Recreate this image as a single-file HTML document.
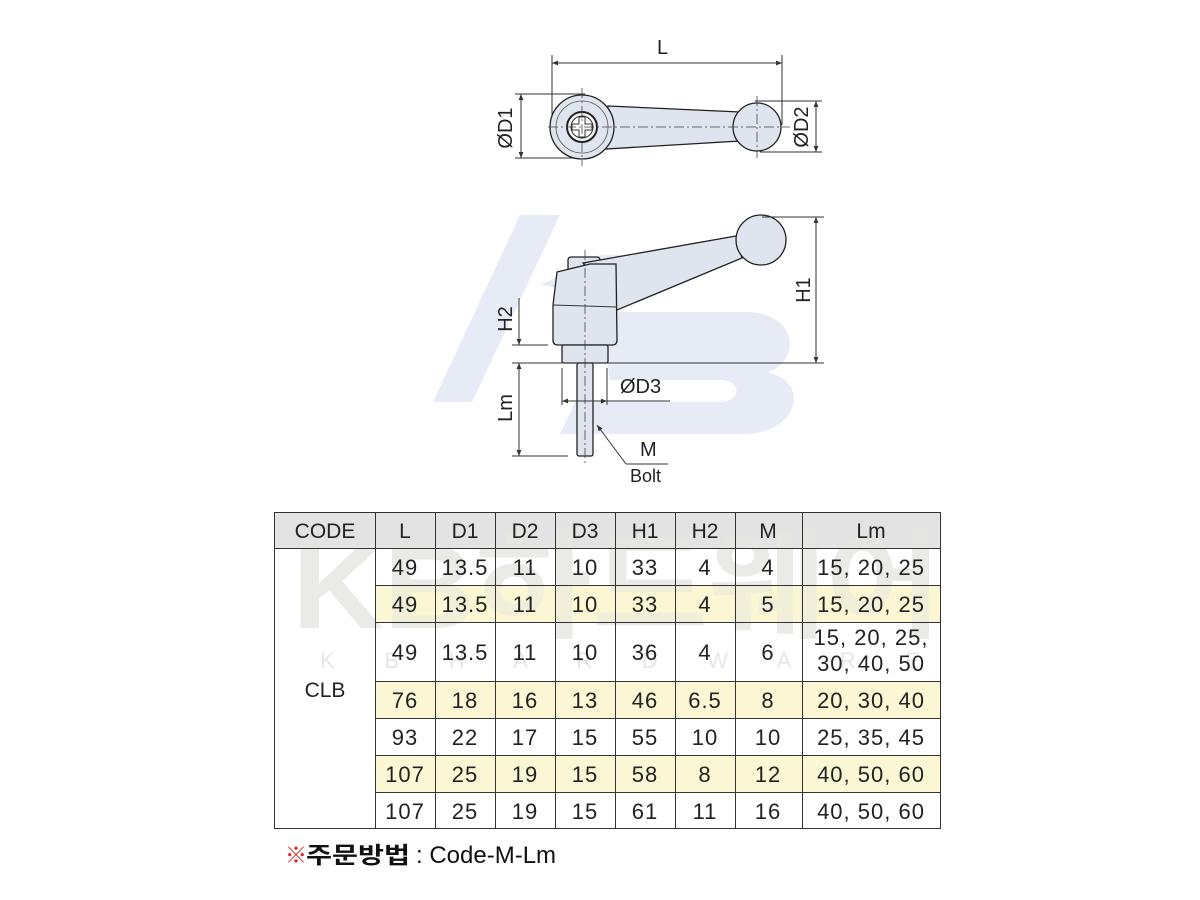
<!DOCTYPE html>
<html><head><meta charset="utf-8"><style>
html,body{margin:0;padding:0;background:#fff;}
svg{display:block;font-family:"Liberation Sans","Noto Sans CJK KR",sans-serif;}
</style></head><body>
<svg width="1200" height="900" viewBox="0 0 1200 900" xmlns="http://www.w3.org/2000/svg">
<defs>
<marker id="a" viewBox="0 0 10 10" refX="10" refY="5" markerWidth="8" markerHeight="6" orient="auto-start-reverse"><path d="M0,1 L10,5 L0,9 z" fill="#333"/></marker>
</defs>
<!-- KB watermark -->
<g fill="#e6ebf5">
<polygon points="433,402 472,402 560,215 520,215"/>
<polygon points="540,285 600,255 690,255 640,300"/>
<path d="M600,312 L745,312 C800,312 800,362 768,372 C810,382 800,432 745,434 L560,434 L575,402 L720,402 C742,402 742,380 720,380 L610,380 Z"/>
</g>
<!-- table watermark -->
<text x="292" y="628" font-size="118" fill="#ececec" font-weight="bold" textLength="650" lengthAdjust="spacingAndGlyphs">KB하드웨어</text>
<text x="320" y="668" font-size="22" fill="#e6e6e6" textLength="600" lengthAdjust="spacing">K B H A R D W A R E</text>

<g stroke="#333" stroke-width="1" fill="none">
<line x1="552" y1="55" x2="552" y2="115"/>
<line x1="782" y1="55" x2="782" y2="125"/>
<line x1="552" y1="63" x2="782" y2="63" marker-start="url(#a)" marker-end="url(#a)"/>
<line x1="515" y1="94" x2="585" y2="94"/>
<line x1="515" y1="158" x2="585" y2="158"/>
<line x1="521" y1="94" x2="521" y2="158" marker-start="url(#a)" marker-end="url(#a)"/>
<line x1="755" y1="101" x2="822" y2="101"/>
<line x1="760" y1="152" x2="822" y2="152"/>
<line x1="816" y1="101" x2="816" y2="152" marker-start="url(#a)" marker-end="url(#a)"/>
</g>
<g stroke="#222" stroke-width="1.3" fill="#dfe5ef">
<path d="M608,106 L740,112 L740,141 L606,149 Z"/>
<circle cx="582" cy="127" r="32"/>
<circle cx="757" cy="127" r="24"/>
</g>
<circle cx="582" cy="127" r="26" fill="none" stroke="#555" stroke-width="0.8"/>
<circle cx="582" cy="127" r="15" fill="#f5f5f5" stroke="#222" stroke-width="2"/>
<circle cx="582" cy="127" r="11" fill="#fff" stroke="#333" stroke-width="1"/>
<path d="M579,117 h6 v7 h7 v6 h-7 v7 h-6 v-7 h-7 v-6 h7z" fill="#fff" stroke="#333" stroke-width="1"/>
<g stroke="#444" stroke-width="0.8" stroke-dasharray="10,3,2,3" fill="none">
<line x1="548" y1="127" x2="790" y2="127"/>
<line x1="582" y1="88" x2="582" y2="166"/>
<line x1="757" y1="96" x2="757" y2="158"/>
</g>
<g font-size="20" fill="#222">
<text x="657" y="54">L</text>
<text transform="translate(512,128) rotate(-90)" text-anchor="middle">ØD1</text>
<text transform="translate(808,127) rotate(-90)" text-anchor="middle">ØD2</text>
</g>

<g stroke="#222" stroke-width="1.3" fill="#dfe5ef">
<rect x="568" y="257" width="32" height="14" rx="3"/>
<path d="M583,263 L736,236 L742,258 L617,310 Z"/>
<path d="M557,272 L590,264 L616,264 L617,340 Q617,345 612,345 L558,345 Q553,345 553,340 L553,305 Z"/>
<rect x="562" y="345" width="46" height="18" rx="2"/>
<rect x="577" y="363" width="16" height="93" rx="2"/>
<circle cx="761" cy="240" r="25"/>
</g>
<line x1="553" y1="305" x2="617" y2="307" stroke="#333" stroke-width="1"/>
<line x1="585" y1="250" x2="585" y2="466" stroke="#444" stroke-width="0.8" stroke-dasharray="10,3,2,3"/>
<g stroke="#333" stroke-width="1" fill="none">
<line x1="762" y1="217" x2="824" y2="217"/>
<line x1="512" y1="363" x2="824" y2="363"/>
<line x1="816" y1="217" x2="816" y2="363" marker-start="url(#a)" marker-end="url(#a)"/>
<line x1="512" y1="345" x2="548" y2="345"/>
<line x1="519" y1="298" x2="519" y2="345" marker-end="url(#a)"/>
<line x1="519" y1="363" x2="519" y2="456" marker-start="url(#a)" marker-end="url(#a)"/>
<line x1="512" y1="456" x2="568" y2="456"/>
<line x1="562" y1="368" x2="562" y2="405"/>
<line x1="607" y1="368" x2="607" y2="405"/>
<line x1="562" y1="401" x2="607" y2="401" marker-start="url(#a)" marker-end="url(#a)"/>
<line x1="607" y1="401" x2="670" y2="401"/>
<line x1="626" y1="464" x2="597" y2="425" marker-end="url(#a)"/>
<line x1="626" y1="464" x2="668" y2="464"/>
</g>
<g font-size="20" fill="#222">
<text transform="translate(512,319) rotate(-90)" text-anchor="middle">H2</text>
<text transform="translate(512,408) rotate(-90)" text-anchor="middle">Lm</text>
<text transform="translate(810,290) rotate(-90)" text-anchor="middle">H1</text>
<text x="620" y="393">ØD3</text>
<text x="640" y="456">M</text>
<text x="630" y="482" font-size="18">Bolt</text>
</g>

<rect x="274" y="512" width="667" height="36" fill="#e3e3e3"/>
<g fill="#fbf6d3">
<rect x="375" y="585" width="566" height="37"/>
<rect x="375" y="681" width="566" height="37"/>
<rect x="375" y="755" width="566" height="37"/>
</g>
<text x="292" y="628" font-size="118" fill="#e8e8e0" fill-opacity="0.5" font-weight="bold" textLength="650" lengthAdjust="spacingAndGlyphs">KB하드웨어</text>
<g stroke="#333" stroke-width="1" fill="none">
<rect x="274.5" y="512.5" width="666" height="316"/>
<line x1="274" y1="548.5" x2="941" y2="548.5"/>
<line x1="375" y1="585.5" x2="941" y2="585.5"/>
<line x1="375" y1="622.5" x2="941" y2="622.5"/>
<line x1="375" y1="681.5" x2="941" y2="681.5"/>
<line x1="375" y1="718.5" x2="941" y2="718.5"/>
<line x1="375" y1="755.5" x2="941" y2="755.5"/>
<line x1="375" y1="792.5" x2="941" y2="792.5"/>
<line x1="375.5" y1="512" x2="375.5" y2="829"/>
<line x1="435.5" y1="512" x2="435.5" y2="829"/>
<line x1="495.5" y1="512" x2="495.5" y2="829"/>
<line x1="555.5" y1="512" x2="555.5" y2="829"/>
<line x1="615.5" y1="512" x2="615.5" y2="829"/>
<line x1="675.5" y1="512" x2="675.5" y2="829"/>
<line x1="735.5" y1="512" x2="735.5" y2="829"/>
<line x1="802.5" y1="512" x2="802.5" y2="829"/>
</g>
<g font-size="21" fill="#222" text-anchor="middle">
<text x="325" y="538">CODE</text><text x="405" y="538">L</text><text x="465" y="538">D1</text><text x="525" y="538">D2</text><text x="585" y="538">D3</text><text x="645" y="538">H1</text><text x="705" y="538">H2</text><text x="768" y="538">M</text><text x="871" y="538">Lm</text>
<text x="325" y="697">CLB</text>
</g>
<g font-size="22" fill="#222" text-anchor="middle" letter-spacing="1">
<text x="405" y="575">49</text><text x="465" y="575">13.5</text><text x="525" y="575">11</text><text x="585" y="575">10</text><text x="645" y="575">33</text><text x="705" y="575">4</text><text x="768" y="575">4</text><text x="871" y="575">15, 20, 25</text>
<text x="405" y="612">49</text><text x="465" y="612">13.5</text><text x="525" y="612">11</text><text x="585" y="612">10</text><text x="645" y="612">33</text><text x="705" y="612">4</text><text x="768" y="612">5</text><text x="871" y="612">15, 20, 25</text>
<text x="405" y="660">49</text><text x="465" y="660">13.5</text><text x="525" y="660">11</text><text x="585" y="660">10</text><text x="645" y="660">36</text><text x="705" y="660">4</text><text x="768" y="660">6</text><text x="871" y="645">15, 20, 25,</text><text x="871" y="671">30, 40, 50</text>
<text x="405" y="708">76</text><text x="465" y="708">18</text><text x="525" y="708">16</text><text x="585" y="708">13</text><text x="645" y="708">46</text><text x="705" y="708">6.5</text><text x="768" y="708">8</text><text x="871" y="708">20, 30, 40</text>
<text x="405" y="745">93</text><text x="465" y="745">22</text><text x="525" y="745">17</text><text x="585" y="745">15</text><text x="645" y="745">55</text><text x="705" y="745">10</text><text x="768" y="745">10</text><text x="871" y="745">25, 35, 45</text>
<text x="405" y="782">107</text><text x="465" y="782">25</text><text x="525" y="782">19</text><text x="585" y="782">15</text><text x="645" y="782">58</text><text x="705" y="782">8</text><text x="768" y="782">12</text><text x="871" y="782">40, 50, 60</text>
<text x="405" y="819">107</text><text x="465" y="819">25</text><text x="525" y="819">19</text><text x="585" y="819">15</text><text x="645" y="819">61</text><text x="705" y="819">11</text><text x="768" y="819">16</text><text x="871" y="819">40, 50, 60</text>
</g>
<text x="285" y="863" font-size="22" fill="#e0201a" font-weight="bold">※</text>
<text x="306" y="863" font-size="23" fill="#111" font-weight="bold" textLength="104" lengthAdjust="spacingAndGlyphs">주문방법</text>
<text x="416" y="863" font-size="24" fill="#111">: Code-M-Lm</text>
</svg>
</body></html>
